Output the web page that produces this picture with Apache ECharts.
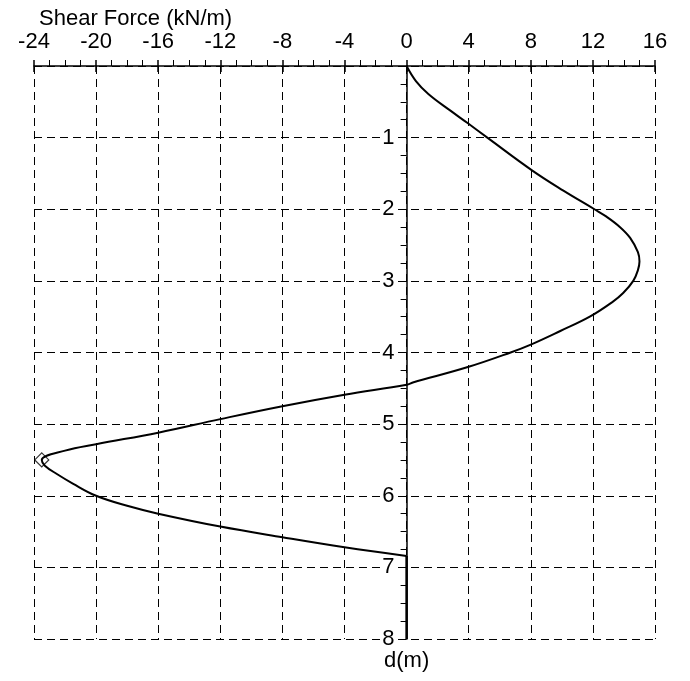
<!DOCTYPE html>
<html>
<head>
<meta charset="utf-8">
<script src="https://cdn.jsdelivr.net/npm/echarts@6/dist/echarts.min.js"></script>
<style>html,body{margin:0;padding:0;background:#fff}#c{width:690px;height:681px}</style>
</head>
<body>
<div id="c"></div>
<script>
// Shear force (kN/m) vs depth d (m)
const shear = [0, 0.6, 1.4, 2.8, 3.95, 5.2, 8.1, 10.1, 12.1, 12.85, 13.75, 14.4, 14.9, 15.0, 14.9, 14.6, 13.95, 13.23, 11.8, 9.9, 8.0, 6.7, 4.0, 0.4, 0, -4, -8, -12, -16, -20, -22, -23.5, -23.3, -22.5, -21.5, -20, -18, -16, -12, -8, -4, 0];
const depth = [0, 0.21, 0.39, 0.62, 0.80, 1.0, 1.46, 1.74, 2.0, 2.1, 2.25, 2.4, 2.6, 2.73, 2.85, 3.0, 3.17, 3.3, 3.5, 3.7, 3.89, 4.0, 4.2, 4.42, 4.45, 4.59, 4.75, 4.93, 5.12, 5.28, 5.37, 5.50, 5.58, 5.70, 5.83, 6.0, 6.14, 6.25, 6.43, 6.58, 6.72, 6.84];
const tailShear = [0, 0];
const tailDepth = [6.84, 8];
const markShear = [-23.5];
const markDepth = [5.5];
const xTicks = {min: -24, max: 16, step: 4};
const yTicks = {min: 0, max: 8, step: 1};

const FONT = 'Liberation Sans';
const FS = 22;
const pair = (xs, ys) => xs.map((x, i) => [x, ys[i]]);
const dash = {color: '#000', type: [8, 5], width: 1};
const W = 690, GL = 34, GR = 35;
const gridW = W - GL - GR;
const yAxisOffset = -gridW * (0 - xTicks.min) / (xTicks.max - xTicks.min);

const chart = echarts.init(document.getElementById('c'));
chart.setOption({
  animation: false,
  backgroundColor: '#fff',
  title: {
    text: 'Shear Force (kN/m)', left: 34, top: 3,
    textStyle: {fontFamily: FONT, fontSize: FS, fontWeight: 'normal', color: '#000'}
  },
  grid: {left: GL, right: GR, top: 66, bottom: 42},
  xAxis: [{
    type: 'value', position: 'top', min: xTicks.min, max: xTicks.max, interval: xTicks.step,
    axisLine: {show: true, onZero: false, lineStyle: {color: '#000', width: 1.5}},
    axisTick: {show: true, length: 6, lineStyle: {color: '#000', width: 1.5}},
    minorTick: {show: true, splitNumber: 4, length: 6, lineStyle: {color: '#000', width: 1}},
    axisLabel: {color: '#000', fontFamily: FONT, fontSize: FS, margin: 13},
    splitLine: {show: true, lineStyle: dash}
  }, {
    type: 'value', position: 'top', min: xTicks.min, max: xTicks.max, interval: xTicks.step,
    axisLine: {show: false, onZero: false},
    axisTick: {show: true, inside: true, length: 6, lineStyle: {color: '#000', width: 1.5}},
    axisLabel: {show: false},
    splitLine: {show: false}
  }],
  yAxis: {
    type: 'value', inverse: true, position: 'left', offset: yAxisOffset,
    min: yTicks.min, max: yTicks.max, interval: yTicks.step,
    axisLine: {show: true, onZero: false, lineStyle: {color: '#000', width: 1.5}},
    axisTick: {show: true, length: 6, lineStyle: {color: '#000', width: 1}},
    minorTick: {show: true, splitNumber: 4, length: 6, lineStyle: {color: '#000', width: 1}},
    axisLabel: {
      color: '#000', fontFamily: FONT, fontSize: FS, margin: 12,
      backgroundColor: '#fff',
      formatter: v => (v === 0 ? '' : String(v))
    },
    splitLine: {show: true, lineStyle: dash},
    name: 'd(m)', nameLocation: 'end', nameGap: 22,
    nameTextStyle: {color: '#000', fontFamily: FONT, fontSize: FS, align: 'center', verticalAlign: 'middle'}
  },
  series: [{
    type: 'line', xAxisIndex: 0, data: pair(shear, depth), smooth: 0.4,
    showSymbol: false, lineStyle: {color: '#000', width: 2}, z: 5
  }, {
    type: 'line', xAxisIndex: 0, data: pair(tailShear, tailDepth),
    showSymbol: false, lineStyle: {color: '#000', width: 2.5}, z: 5
  }, {
    type: 'scatter', xAxisIndex: 0, data: pair(markShear, markDepth),
    symbol: 'diamond', symbolSize: [14, 14],
    itemStyle: {color: 'rgba(0,0,0,0)', borderColor: '#000', borderWidth: 1.2}, z: 6
  }]
});
</script>
</body>
</html>
